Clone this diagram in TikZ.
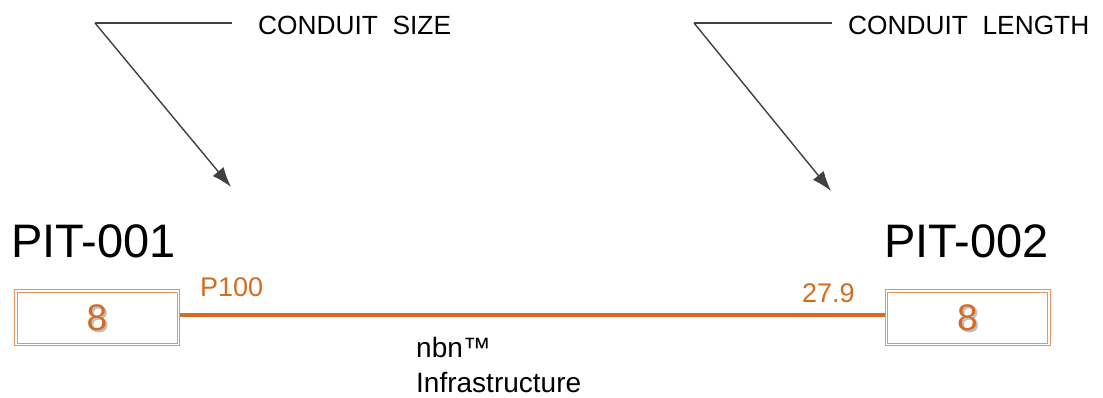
\documentclass[tikz,border=0pt]{standalone}
\usepackage{fontspec}
\setmainfont{Liberation Sans}
\usetikzlibrary{arrows.meta,calc}
\definecolor{pipe}{RGB}{210,108,34}
\definecolor{boxline}{RGB}{228,150,95}
\definecolor{callgray}{RGB}{64,64,64}
\begin{document}
\begin{tikzpicture}[x=1pt,y=-1pt,
  callout/.style={draw=callgray,line width=1.4pt},
  calltip/.style={callout,-{Latex[length=20pt,width=14pt]}},
  calltext/.style={anchor=base west,inner sep=0pt,font=\fontsize{26.3}{30}\selectfont},
  pittext/.style={anchor=base west,inner sep=0pt,font=\fontsize{47}{52}\selectfont},
  pitbox/.style={draw=boxline,line width=1pt,minimum width=165pt,minimum height=56pt,inner sep=0pt},
  innerbox/.style={draw=boxline,line width=1pt},
  digit/.style={text=pipe,font=\fontsize{37}{40}\selectfont},
  shadowdigit/.style={text=black!25,font=\fontsize{37}{40}\selectfont},
  pipelabel/.style={anchor=base west,inner sep=0pt,text=pipe,font=\fontsize{27}{30}\selectfont},
  infotext/.style={anchor=base west,inner sep=0pt,font=\fontsize{28}{32}\selectfont,align=left}]
\useasboundingbox (0,0) rectangle (1103,398);

% callouts
\coordinate (c1) at (95,23);
\coordinate (c1e) at (232,23);
\coordinate (c1t) at (231,187);
\node[calltext] (t1) at (258,35) {CONDUIT\ \ SIZE};
\draw[callout] (c1e) -- (c1);
\draw[calltip] (c1) -- (c1t);

\coordinate (c2) at (694,23);
\coordinate (c2e) at (832,23);
\coordinate (c2t) at (831,191);
\node[calltext] (t2) at (848,35) {CONDUIT\ \ LENGTH};
\draw[callout] (c2e) -- (c2);
\draw[calltip] (c2) -- (c2t);

% pit labels
\node[pittext] (p1) at (11,258) {PIT-001};
\node[pittext] (p2) at (884,258) {PIT-002};

% pit boxes
\node[pitbox] (b1) at (97,317.5) {};
\node[pitbox] (b2) at (967.5,317.5) {};
\draw[innerbox] ($(b1.north west)+(3,3)$) rectangle ($(b1.south east)+(-3,-3)$);
\draw[innerbox] ($(b2.north west)+(3,3)$) rectangle ($(b2.south east)+(-3,-3)$);
\node[shadowdigit] (s1) at ($(b1.center)+(1.8,1.8)$) {8};
\node[shadowdigit] (s2) at ($(b2.center)+(1.8,1.8)$) {8};
\node[digit] (d1) at (b1.center) {8};
\node[digit] (d2) at (b2.center) {8};

% pipe
\draw[pipe,line width=4pt] (b1.east |- 0,315) -- (b2.west |- 0,315);

\node[pipelabel] (sz) at (200,296) {P100};
\node[pipelabel] (ln) at (802,302) {27.9};

\node[infotext] (n1) at (416,357) {nbn™};
\node[infotext] (n2) at (416,392) {Infrastructure};
\end{tikzpicture}
\end{document}
